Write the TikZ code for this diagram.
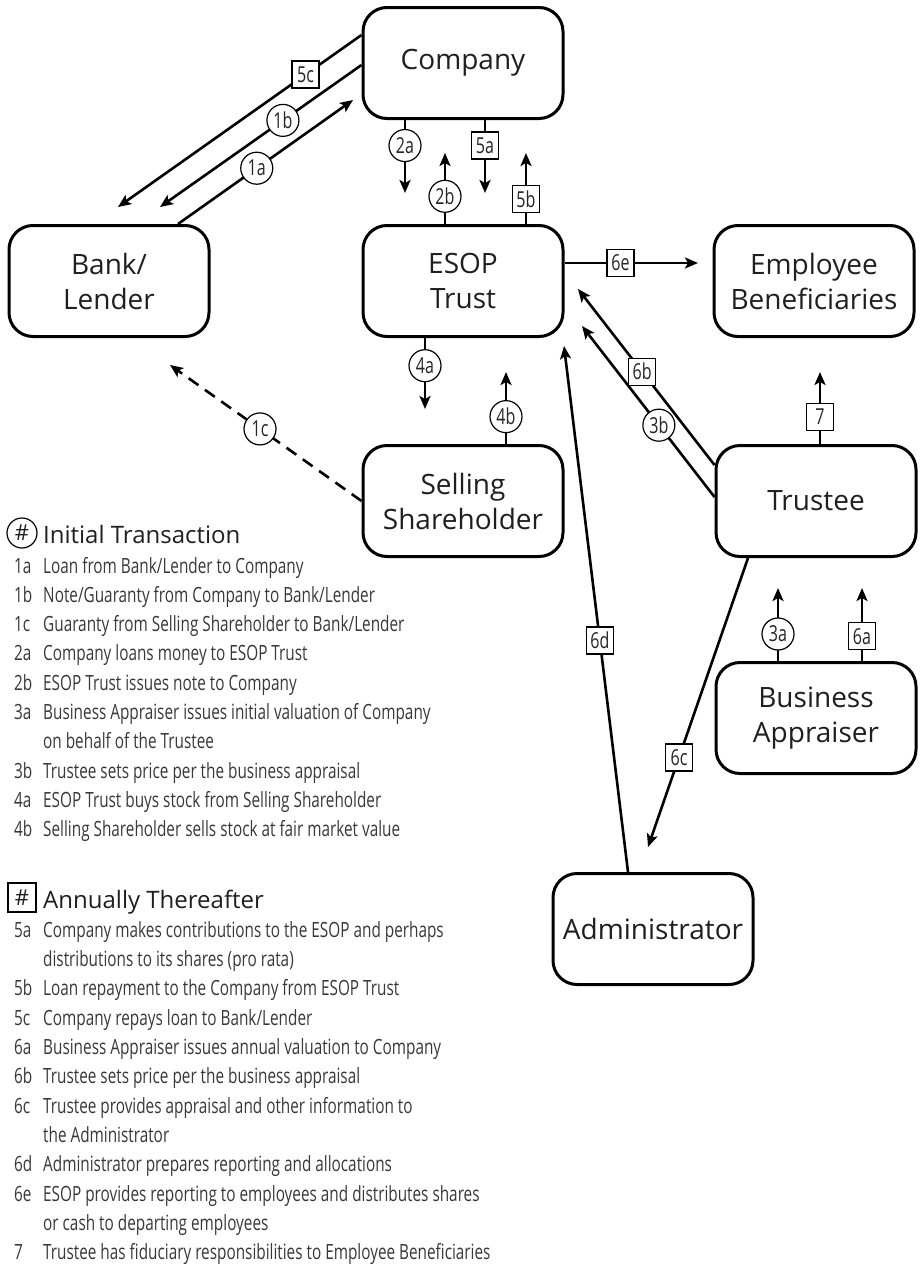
\documentclass[tikz,border=0pt]{standalone}
\usepackage{fontspec}
\setmainfont{Open Sans}
\newfontfamily\cond[FakeStretch=0.73]{Open Sans}
\usetikzlibrary{arrows.meta,calc}
\tikzset{
  box/.style={draw, line width=3pt, rounded corners=24pt, minimum width=200pt, minimum height=111pt,
    align=center, font=\fontsize{28}{35}\selectfont, text=black!88, inner sep=0pt},
  arr/.style={line width=2.6pt, -{Stealth[length=13pt,width=11pt,inset=3pt]}},
  circ/.style={circle, draw, solid, line width=1.2pt, fill=white, inner sep=0pt, minimum size=32pt,
    font=\cond\fontsize{22}{22}\selectfont, text=black!85},
  sq/.style={draw, solid, line width=1.2pt, fill=white, inner sep=0pt, minimum width=27pt, minimum height=27pt,
    font=\cond\fontsize{22}{22}\selectfont, text=black!85},
  head/.style={anchor=base west, inner sep=0pt, font=\fontsize{24}{24}\selectfont, text=black!88},
  item/.style={anchor=base west, inner sep=0pt, font=\cond\fontsize{21}{21}\selectfont, text=black!78},
}
\begin{document}
\begin{tikzpicture}[x=1pt,y=-1pt]
\useasboundingbox (0,0) rectangle (922,1266);

% boxes
\node[box] (company) at (463,63) {Company};
\node[box] (esop) at (463,281) {ESOP\\Trust};
\node[box] (bank) at (109,281) {Bank/\\Lender};
\node[box] (employee) at (814,281) {Employee\\Beneficiaries};
\node[box] (selling) at (463,501) {Selling\\Shareholder};
\node[box] (trustee) at (816,501) {Trustee};
\node[box] (appraiser) at (816,718) {Business\\Appraiser};
\node[box] (admin) at (653,929) {Administrator};

% free arrow ends
\coordinate (t2a) at (405,193);
\coordinate (t5a) at (485,193);
\coordinate (t2b) at (445,153);
\coordinate (t5b) at (526,153);
\coordinate (t4a) at (425,409);
\coordinate (t4b) at (506,372);
\coordinate (t6e) at (698,263);
\coordinate (t7) at (820,372);
\coordinate (t3a) at (778,588);
\coordinate (t6a) at (862,588);
\coordinate (t6b) at (578,289);
\coordinate (t3b) at (582,326);
\coordinate (t6d) at (564,346);
\coordinate (t6c) at (648,847);
\coordinate (t1a) at (353,100);
\coordinate (t1b) at (160,207);
\coordinate (t5c) at (118,207);
\coordinate (t1c) at (170,365);

% connectors
\draw[arr] ([yshift=28pt]company.west) -- node[sq,pos=0.23] (l5c) {5c} (t5c);
\draw[arr] ([yshift=-2pt]company.west) -- node[circ,pos=0.39] (l1b) {1b} (t1b);
\draw[arr] ([xshift=69pt]bank.north) -- node[circ,pos=0.45] (l1a) {1a} (t1a);
\draw[arr] ([xshift=-58pt]company.south) -- node[circ,pos=0.35] (l2a) {2a} (t2a);
\draw[arr] ([xshift=22pt]company.south) -- node[sq,pos=0.35] (l5a) {5a} (t5a);
\draw[arr] ([xshift=-18pt]esop.north) -- node[circ,pos=0.39] (l2b) {2b} (t2b);
\draw[arr] ([xshift=63pt]esop.north) -- node[sq,pos=0.35] (l5b) {5b} (t5b);
\draw[arr] ([yshift=18pt]esop.east) -- node[sq,pos=0.42] (l6e) {6e} (t6e);
\draw[arr] ([xshift=-38pt]esop.south) -- node[circ,pos=0.39] (l4a) {4a} (t4a);
\draw[arr] ([xshift=43pt]selling.north) -- node[circ,pos=0.38] (l4b) {4b} (t4b);
\draw[arr, dash pattern=on 12pt off 8pt] (selling.west) -- node[circ,pos=0.53] (l1c) {1c} (t1c);
\draw[arr] ([yshift=36pt]trustee.west) -- node[sq,pos=0.53] (l6b) {6b} (t6b);
\draw[arr] ([yshift=4pt]trustee.west) -- node[circ,pos=0.42] (l3b) {3b} (t3b);
\draw[arr] ([xshift=4pt]trustee.north) -- node[sq,pos=0.38] (l7) {7} (t7);
\draw[arr] ([xshift=-38pt]appraiser.north) -- node[circ,pos=0.37] (l3a) {3a} (t3a);
\draw[arr] ([xshift=46pt]appraiser.north) -- node[sq,pos=0.34] (l6a) {6a} (t6a);
\draw[arr] ([xshift=-68pt]trustee.south) -- node[sq,pos=0.69] (l6c) {6c} (t6c);
\draw[arr] ([xshift=-25pt]admin.north) -- node[sq,pos=0.44] (l6d) {6d} (t6d);

% legend 1
\node[circle, draw, line width=1.2pt, minimum size=30pt, inner sep=0pt,
  font=\fontsize{22}{22}\selectfont, text=black!88] (hash1) at (22,533) {\#};
\node[head] (head1) at (43,543) {Initial Transaction};
\foreach \c/\t [count=\i] in {
  1a/{Loan from Bank/Lender to Company},
  1b/{Note/Guaranty from Company to Bank/Lender},
  1c/{Guaranty from Selling Shareholder to Bank/Lender},
  2a/{Company loans money to ESOP Trust},
  2b/{ESOP Trust issues note to Company},
  3a/{Business Appraiser issues initial valuation of Company},
  {}/{on behalf of the Trustee},
  3b/{Trustee sets price per the business appraisal},
  4a/{ESOP Trust buys stock from Selling Shareholder},
  4b/{Selling Shareholder sells stock at fair market value}}{
  \node[item] (ca\i) at (14,{573+29.3*(\i-1)}) {\c};
  \node[item] (ta\i) at (43,{573+29.3*(\i-1)}) {\t};
}

% legend 2
\node[draw, line width=1.2pt, minimum width=28pt, minimum height=29pt, inner sep=0pt,
  font=\fontsize{22}{22}\selectfont, text=black!88] (hash2) at (22,897.5) {\#};
\node[head] (head2) at (43,908) {Annually Thereafter};
\foreach \c/\t [count=\i] in {
  5a/{Company makes contributions to the ESOP and perhaps},
  {}/{distributions to its shares (pro rata)},
  5b/{Loan repayment to the Company from ESOP Trust},
  5c/{Company repays loan to Bank/Lender},
  6a/{Business Appraiser issues annual valuation to Company},
  6b/{Trustee sets price per the business appraisal},
  6c/{Trustee provides appraisal and other information to},
  {}/{the Administrator},
  6d/{Administrator prepares reporting and allocations},
  6e/{ESOP provides reporting to employees and distributes shares},
  {}/{or cash to departing employees},
  7/{Trustee has fiduciary responsibilities to Employee Beneficiaries}}{
  \node[item] (cb\i) at (14,{937+29.36*(\i-1)}) {\c};
  \node[item] (tb\i) at (43,{937+29.36*(\i-1)}) {\t};
}
\end{tikzpicture}
\end{document}
